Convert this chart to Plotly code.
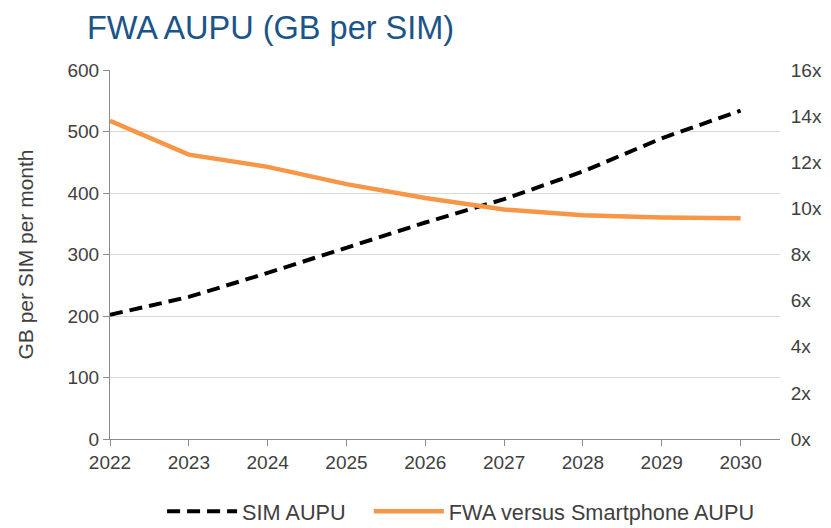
import plotly.graph_objects as go

years = [2022, 2023, 2024, 2025, 2026, 2027, 2028, 2029, 2030]
sim_aupu = [202, 231, 270, 311, 352, 390, 435, 489, 534]
fwa_vs_smartphone = [13.8, 12.33, 11.8, 11.05, 10.45, 9.95, 9.7, 9.6, 9.57]

fig = go.Figure()
fig.add_trace(go.Scatter(x=years, y=sim_aupu, name="SIM AUPU\u00a0\u00a0\u00a0", mode="lines",
                         line=dict(color="black", width=4, dash="13px,7px")))
fig.add_trace(go.Scatter(x=years, y=fwa_vs_smartphone, name="FWA versus Smartphone AUPU", mode="lines",
                         line=dict(color="#F79646", width=4.5), yaxis="y2"))

fam = "Liberation Sans, Arial"
font_tick = dict(family=fam, size=19, color="#404040")
# page body adds 8px offset, so margins are shifted by 8
fig.update_layout(
    width=831, height=528, template="plotly_white",
    plot_bgcolor="white", paper_bgcolor="white",
    margin=dict(l=102, r=59, t=62, b=97, autoexpand=False),
    title=dict(text="FWA AUPU (GB per SIM)", x=79/831, xanchor="left", y=0.962, yanchor="middle",
               font=dict(family=fam, size=32.5, color="#1B5488")),
    xaxis=dict(range=[2022, 2030.5], dtick=1, tickfont=font_tick, showgrid=False, automargin=False,
               showline=True, linecolor="#8c8c8c", ticks="outside", tickcolor="#8c8c8c", ticklen=6, zeroline=False),
    yaxis=dict(range=[0, 600], dtick=100, tickfont=font_tick, gridcolor="#d9d9d9", automargin=False,
               showline=True, linecolor="#8c8c8c", ticks="outside", tickcolor="#8c8c8c", ticklen=6, zeroline=False,
               title=dict(text="GB per SIM per month", font=dict(family=fam, size=21, color="#404040"), standoff=28)),
    yaxis2=dict(range=[0, 16], dtick=2, ticksuffix="x", overlaying="y", side="right", showgrid=False,
                tickfont=font_tick, zeroline=False, automargin=False, ticklen=6, ticks="outside", tickcolor="white"),
    legend=dict(orientation="h", x=0.524, xanchor="center", y=-0.197, yanchor="middle",
                font=dict(family=fam, size=21.7, color="#404040"), itemwidth=70),
)

fig.write_html("out.html")
